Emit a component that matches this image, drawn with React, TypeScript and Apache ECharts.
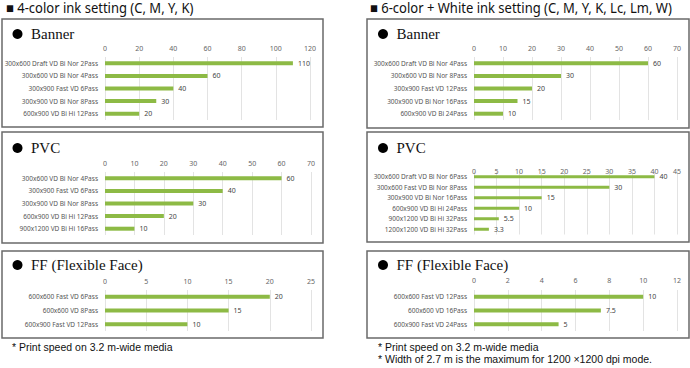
import React, { useEffect, useRef } from "react";
import * as echarts from "echarts";

// ---- Data ----
const leftTitle = "■ 4-color ink setting (C, M, Y, K)";
const rightTitle = "■ 6-color + White ink setting (C, M, Y, K, Lc, Lm, W)";

const bannerLCats = [
  "300x600 Draft VD Bi Nor 2Pass",
  "300x600 VD Bi Nor 4Pass",
  "300x900 Fast VD 6Pass",
  "300x900 VD Bi Nor 8Pass",
  "600x900 VD Bi Hi 12Pass",
];
const bannerLVals = [110, 60, 40, 30, 20];

const pvcLCats = [
  "300x600 VD Bi Nor 4Pass",
  "300x900 Fast VD 6Pass",
  "300x900 VD Bi Nor 8Pass",
  "600x900 VD Bi Hi 12Pass",
  "900x1200 VD Bi Hi 16Pass",
];
const pvcLVals = [60, 40, 30, 20, 10];

const ffLCats = ["600x600 Fast VD 6Pass", "600x600 VD 8Pass", "600x900 Fast VD 12Pass"];
const ffLVals = [20, 15, 10];

const bannerRCats = [
  "300x600 Draft VD Bi Nor 4Pass",
  "300x600 VD Bi Nor 8Pass",
  "300x900 Fast VD 12Pass",
  "300x900 VD Bi Nor 16Pass",
  "600x900 VD Bi 24Pass",
];
const bannerRVals = [60, 30, 20, 15, 10];

const pvcRCats = [
  "300x600 Draft VD Bi Nor 6Pass",
  "300x600 Fast VD Bi Nor 8Pass",
  "300x900 VD Bi Nor 16Pass",
  "600x900 VD Bi Hi 24Pass",
  "900x1200 VD Bi Hi 32Pass",
  "1200x1200 VD Bi Hi 32Pass",
];
const pvcRVals = [40, 30, 15, 10, 5.5, 3.3];

const ffRCats = ["600x600 Fast VD 12Pass", "600x600 VD 16Pass", "600x900 Fast VD 24Pass"];
const ffRVals = [10, 7.5, 5];

const axisMax = [120, 70, 25, 70, 45, 12];
const axisInterval = [20, 10, 5, 10, 5, 2];

const panelTitles = ["Banner", "PVC", "FF (Flexible Face)"];
const footLeft = ["* Print speed on 3.2 m-wide media"];
const footRight = [
  "* Print speed on 3.2 m-wide media",
  "* Width of 2.7 m is the maximum for 1200 \u00d71200 dpi mode.",
];

const GREEN = "#8dba45";
const SANS = "'Noto Sans', 'Open Sans', sans-serif";
const FOOT = "'Liberation Sans', Arial, sans-serif";
const SERIF = "'Liberation Serif', 'DejaVu Serif', serif";

export default function App() {
  const ref = useRef<HTMLDivElement>(null);
  useEffect(() => {
    const chart = echarts.init(ref.current!, undefined, { renderer: "svg" });

    const panels = [
      { cats: bannerLCats, vals: bannerLVals, left: 105, width: 205, top: 57, height: 63, barW: 4, lblM: 5 },
      { cats: pvcLCats, vals: pvcLVals, left: 105, width: 206, top: 172, height: 63, barW: 4, lblM: 5 },
      { cats: ffLCats, vals: ffLVals, left: 105, width: 206, top: 290, height: 41, barW: 4, lblM: 5 },
      { cats: bannerRCats, vals: bannerRVals, left: 474, width: 203, top: 57, height: 63, barW: 4, lblM: 5 },
      { cats: pvcRCats, vals: pvcRVals, left: 474, width: 203, top: 171.5, height: 63, barW: 3, lblM: -3 },
      { cats: ffRCats, vals: ffRVals, left: 474, width: 203, top: 290, height: 41, barW: 4, lblM: 6 },
    ];

    const grid = panels.map((p) => ({ left: p.left, top: p.top, width: p.width, height: p.height }));
    const xAxis = panels.map((p, i) => ({
      type: "value",
      gridIndex: i,
      position: "top",
      min: 0,
      max: axisMax[i],
      interval: axisInterval[i],
      axisLine: { show: false },
      axisTick: { show: false },
      axisLabel: { fontSize: 7, color: "#666", margin: p.lblM, fontFamily: SANS },
      splitLine: { lineStyle: { color: "#e3e3e3", width: 1 } },
    }));
    const yAxis = panels.map((p, i) => ({
      type: "category",
      gridIndex: i,
      data: p.cats,
      inverse: true,
      axisLine: { show: false },
      axisTick: { show: false },
      axisLabel: { fontSize: 6.5, color: "#555", margin: 7, fontFamily: SANS },
    }));
    const series = panels.map((p, i) => ({
      type: "bar",
      xAxisIndex: i,
      yAxisIndex: i,
      data: p.vals,
      barWidth: p.barW,
      itemStyle: { color: GREEN },
      label: { show: true, position: "right", fontSize: 7, color: "#444", distance: 5, fontFamily: SANS },
    }));

    const boxes = [
      { x: 2, y: 19, w: 321, h: 108 },
      { x: 2, y: 132, w: 321, h: 111 },
      { x: 2, y: 251, w: 321, h: 87 },
      { x: 367, y: 19, w: 322, h: 109 },
      { x: 367, y: 132, w: 322, h: 110 },
      { x: 367, y: 251, w: 322, h: 87 },
    ];
    const titleYs = [34, 148, 265];
    const graphic: any[] = [];
    boxes.forEach((b) => {
      graphic.push({
        type: "rect",
        shape: { x: b.x, y: b.y, width: b.w, height: b.h },
        style: { fill: "none", stroke: "#6a6a6a", lineWidth: 1.5 },
        silent: true,
      });
    });
    [17.5, 383].forEach((cx) => {
      titleYs.forEach((cy, k) => {
        graphic.push({ type: "circle", shape: { cx, cy, r: 5 }, style: { fill: "#000" } });
        graphic.push({
          type: "text",
          x: cx + 13.5,
          y: cy,
          style: { text: panelTitles[k], font: `15px ${SERIF}`, fill: "#111", textVerticalAlign: "middle" },
        });
      });
    });
    graphic.push({
      type: "text",
      x: 6,
      y: 8,
      scaleX: 0.93,
      style: { text: leftTitle, font: `14px ${SANS}`, fill: "#111", textVerticalAlign: "middle" },
    });
    graphic.push({
      type: "text",
      x: 370,
      y: 8,
      scaleX: 0.93,
      style: { text: rightTitle, font: `14px ${SANS}`, fill: "#111", textVerticalAlign: "middle" },
    });
    footLeft.forEach((t, k) => {
      graphic.push({
        type: "text",
        x: 12,
        y: 347 + k * 12,
        style: { text: t, font: `10.5px ${FOOT}`, fill: "#111", textVerticalAlign: "middle" },
      });
    });
    footRight.forEach((t, k) => {
      graphic.push({
        type: "text",
        x: 378,
        y: 347 + k * 12,
        style: { text: t, font: `10.5px ${FOOT}`, fill: "#111", textVerticalAlign: "middle" },
      });
    });

    chart.setOption({
      animation: false,
      backgroundColor: "#fff",
      grid,
      xAxis,
      yAxis,
      series,
      graphic,
    } as any);
    return () => chart.dispose();
  }, []);
  return (
    <div
      ref={ref}
      style={{ position: "fixed", left: 0, top: 0, width: 690, height: 368 }}
    />
  );
}
